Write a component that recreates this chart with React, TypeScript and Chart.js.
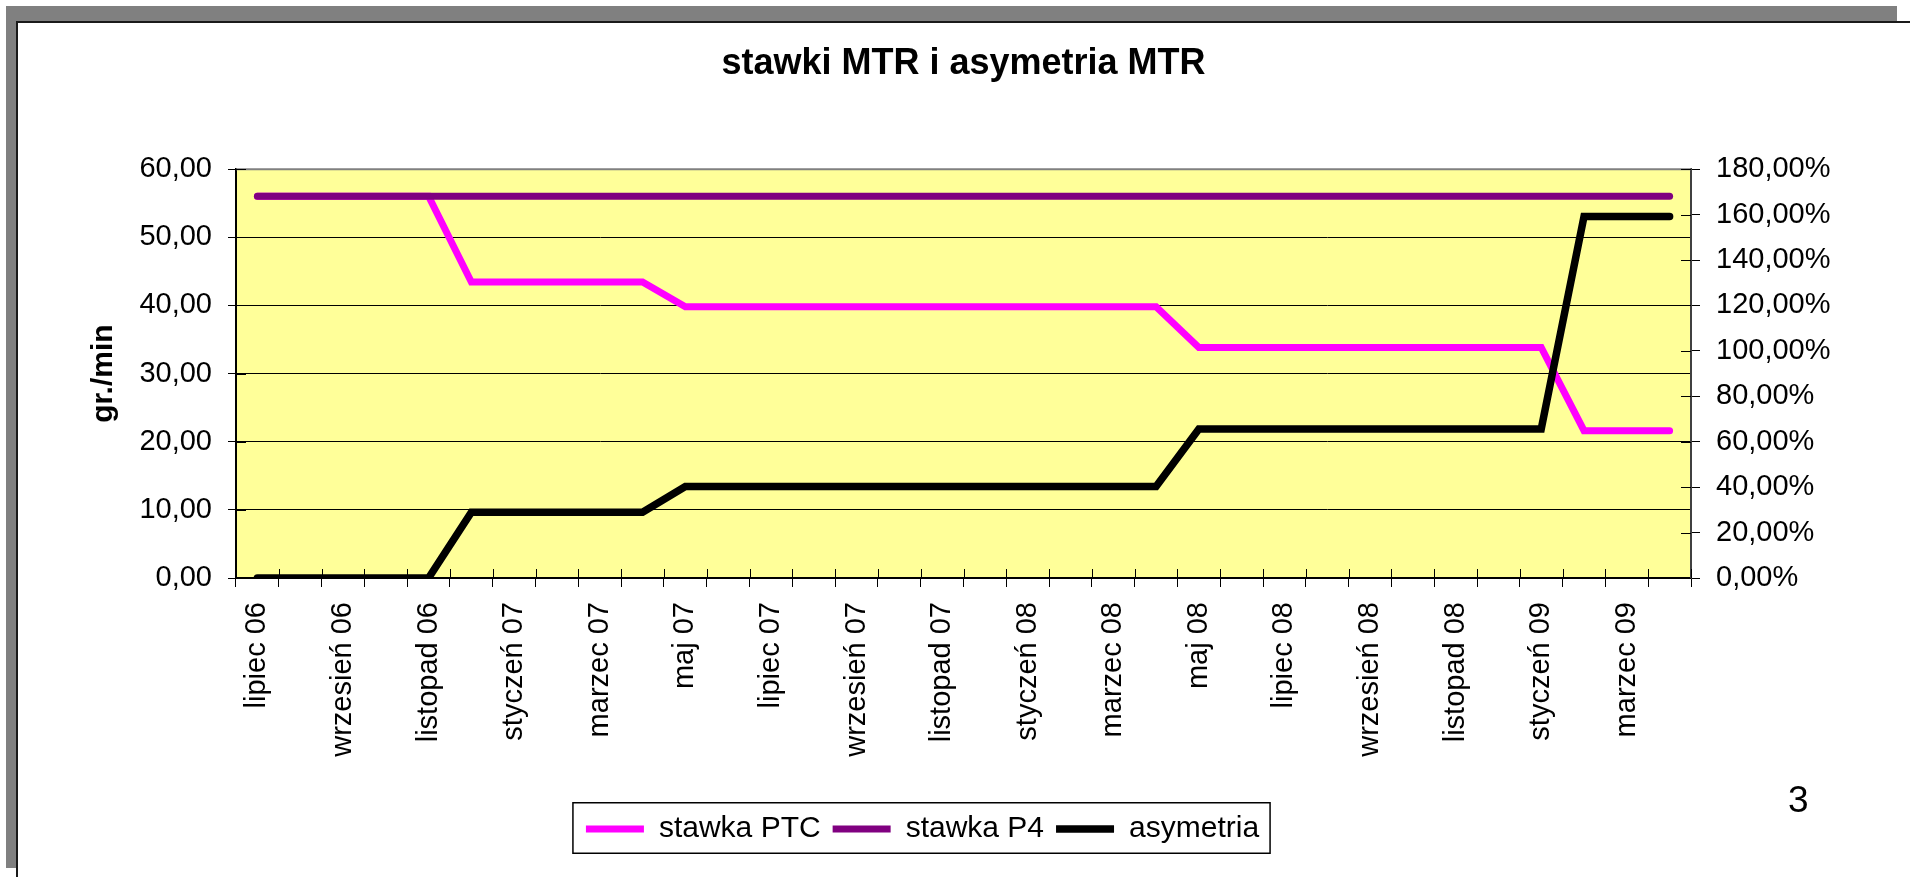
import React, { useEffect, useRef } from 'react';
import { Chart, registerables } from 'chart.js';

Chart.register(...registerables);

const FONT = "'Liberation Sans', Arial, sans-serif";

const titleText = 'stawki MTR i asymetria MTR';
const yLeftTitle = 'gr./min';
const pageNumber = '3';

const months = [
  'lipiec 06', 'sierpień 06', 'wrzesień 06', 'październik 06', 'listopad 06', 'grudzień 06',
  'styczeń 07', 'luty 07', 'marzec 07', 'kwiecień 07', 'maj 07', 'czerwiec 07',
  'lipiec 07', 'sierpień 07', 'wrzesień 07', 'październik 07', 'listopad 07', 'grudzień 07',
  'styczeń 08', 'luty 08', 'marzec 08', 'kwiecień 08', 'maj 08', 'czerwiec 08',
  'lipiec 08', 'sierpień 08', 'wrzesień 08', 'październik 08', 'listopad 08', 'grudzień 08',
  'styczeń 09', 'luty 09', 'marzec 09', 'kwiecień 09',
];

const seriesNames = ['stawka PTC', 'stawka P4', 'asymetria'];

const stawkaPTC = [
  56.04, 56.04, 56.04, 56.04, 56.04,
  43.45, 43.45, 43.45, 43.45, 43.45,
  39.8, 39.8, 39.8, 39.8, 39.8, 39.8, 39.8, 39.8, 39.8, 39.8, 39.8, 39.8,
  33.84, 33.84, 33.84, 33.84, 33.84, 33.84, 33.84, 33.84, 33.84,
  21.62, 21.62, 21.62,
];

const stawkaP4 = [
  56.04, 56.04, 56.04, 56.04, 56.04, 56.04, 56.04, 56.04, 56.04, 56.04,
  56.04, 56.04, 56.04, 56.04, 56.04, 56.04, 56.04, 56.04, 56.04, 56.04,
  56.04, 56.04, 56.04, 56.04, 56.04, 56.04, 56.04, 56.04, 56.04, 56.04,
  56.04, 56.04, 56.04, 56.04,
];

// asymetria in percent
const asymetria = [
  0, 0, 0, 0, 0,
  29.0, 29.0, 29.0, 29.0, 29.0,
  40.3, 40.3, 40.3, 40.3, 40.3, 40.3, 40.3, 40.3, 40.3, 40.3, 40.3, 40.3,
  65.6, 65.6, 65.6, 65.6, 65.6, 65.6, 65.6, 65.6, 65.6,
  159.2, 159.2, 159.2,
];

const leftAxis = { min: 0, max: 60, step: 10 };
const rightAxis = { min: 0, max: 180, step: 20 };

const colors = ['#FF00FF', '#800080', '#000000'];

const fmt = (v: number) => v.toFixed(2).replace('.', ',');

const decorPlugin = {
  id: 'decor',
  beforeDraw(chart: any) {
    const { ctx, chartArea: a } = chart;
    ctx.save();
    ctx.fillStyle = '#FFFF99';
    ctx.fillRect(a.left, a.top, a.right - a.left, a.bottom - a.top);
    ctx.restore();
  },
  beforeDatasetsDraw(chart: any) {
    const { ctx, chartArea: a, scales } = chart;
    ctx.save();
    ctx.strokeStyle = '#808080';
    ctx.lineWidth = 2;
    ctx.beginPath();
    ctx.moveTo(a.left, a.top);
    ctx.lineTo(a.right, a.top);
    ctx.stroke();
    ctx.strokeStyle = '#000';
    ctx.lineWidth = 1;
    const yl = scales.y;
    yl.ticks.forEach((t: any) => {
      const py = Math.round(yl.getPixelForValue(t.value)) + 0.5;
      ctx.beginPath();
      ctx.moveTo(a.left, py);
      ctx.lineTo(a.left + 10, py);
      ctx.stroke();
    });
    const yr = scales.y1;
    yr.ticks.forEach((t: any) => {
      const py = Math.round(yr.getPixelForValue(t.value)) + 0.5;
      ctx.beginPath();
      ctx.moveTo(a.right - 10, py);
      ctx.lineTo(a.right, py);
      ctx.stroke();
    });
    const xs = scales.x;
    const n = xs.ticks.length;
    const half = (xs.getPixelForTick(1) - xs.getPixelForTick(0)) / 2;
    for (let i = 0; i <= n; i++) {
      const px = Math.round(xs.getPixelForTick(0) - half + 2 * half * i) + 0.5;
      ctx.beginPath();
      ctx.moveTo(px, a.bottom - 9);
      ctx.lineTo(px, a.bottom);
      ctx.stroke();
    }
    ctx.restore();
  },
  afterDraw(chart: any) {
    const lg = chart.legend;
    if (!lg || !lg.legendHitBoxes || !lg.legendHitBoxes.length) return;
    const hb = lg.legendHitBoxes;
    const first = hb[0];
    const last = hb[hb.length - 1];
    const { ctx } = chart;
    ctx.save();
    ctx.strokeStyle = '#000';
    ctx.lineWidth = 1.5;
    const l = first.left - 13;
    const r = last.left + last.width + 11;
    ctx.strokeRect(l, lg.top + 0.75, r - l, lg.bottom - lg.top - 1.5);
    ctx.restore();
  },
};

function ChartView() {
  const ref = useRef<HTMLCanvasElement | null>(null);
  useEffect(() => {
    if (!ref.current) return;
    const chart = new Chart(ref.current, {
      type: 'line',
      data: {
        labels: months,
        datasets: [
          {
            label: seriesNames[0],
            data: stawkaPTC,
            borderColor: colors[0],
            backgroundColor: colors[0],
            borderWidth: 7,
            borderCapStyle: 'round',
            borderJoinStyle: 'miter',
            pointRadius: 0,
            tension: 0,
            yAxisID: 'y',
            order: 3,
          },
          {
            label: seriesNames[1],
            data: stawkaP4,
            borderColor: colors[1],
            backgroundColor: colors[1],
            borderWidth: 7,
            borderCapStyle: 'round',
            borderJoinStyle: 'miter',
            pointRadius: 0,
            tension: 0,
            yAxisID: 'y',
            order: 2,
          },
          {
            label: seriesNames[2],
            data: asymetria,
            borderColor: colors[2],
            backgroundColor: colors[2],
            borderWidth: 7.5,
            borderCapStyle: 'round',
            borderJoinStyle: 'miter',
            pointRadius: 0,
            tension: 0,
            yAxisID: 'y1',
            order: 1,
          },
        ],
      },
      options: {
        animation: false,
        responsive: false,
        maintainAspectRatio: false,
        events: [],
        layout: { padding: { left: 0, right: 65, top: 0, bottom: 23 } },
        plugins: {
          tooltip: { enabled: false },
          title: {
            display: true,
            text: titleText,
            fullSize: false,
            color: '#000',
            font: { family: FONT, size: 36, weight: 'bold' },
            padding: { top: 42, bottom: 84 },
          },
          legend: {
            display: true,
            position: 'bottom',
            align: 'center',
            labels: {
              color: '#000',
              font: { family: FONT, size: 30 },
              usePointStyle: true,
              pointStyle: 'line',
              pointStyleWidth: 58,
              padding: 12,
              sort: (a: any, b: any) => a.datasetIndex - b.datasetIndex,
            },
          },
        },
        scales: {
          x: {
            type: 'category',
            offset: true,
            afterFit: (s: any) => { s.height = 224; },
            grid: {
              offset: true,
              drawOnChartArea: false,
              drawTicks: true,
              tickLength: 9,
              color: '#000',
              lineWidth: 1,
            },
            border: { display: true, color: '#000', width: 2 },
            ticks: {
              autoSkip: false,
              minRotation: 90,
              maxRotation: 90,
              padding: 15,
              color: '#000',
              font: { family: FONT, size: 29 },
              callback: (_v: any, i: number) => (i % 2 === 0 ? months[i] : ''),
            },
          },
          y: {
            type: 'linear',
            position: 'left',
            min: leftAxis.min,
            max: leftAxis.max,
            afterFit: (s: any) => { s.width = 236; },
            grid: { color: '#000', lineWidth: 1, drawTicks: true, tickLength: 8 },
            border: { display: true, color: '#000', width: 2 },
            ticks: {
              stepSize: leftAxis.step,
              padding: 16,
              color: '#000',
              font: { family: FONT, size: 29 },
              callback: (v: any) => fmt(Number(v)),
            },
            title: {
              display: true,
              text: yLeftTitle,
              color: '#000',
              font: { family: FONT, size: 30, weight: 'bold' },
              padding: { top: 86, bottom: 0 },
            },
          },
          y1: {
            type: 'linear',
            position: 'right',
            min: rightAxis.min,
            max: rightAxis.max,
            afterFit: (s: any) => { s.width = 154; },
            grid: { drawOnChartArea: false, color: '#000', lineWidth: 1, drawTicks: true, tickLength: 9 },
            border: { display: true, color: '#404040', width: 2 },
            ticks: {
              stepSize: rightAxis.step,
              padding: 16,
              color: '#000',
              font: { family: FONT, size: 29 },
              callback: (v: any) => fmt(Number(v)) + '%',
            },
          },
        },
      },
      plugins: [decorPlugin],
    } as any);
    return () => chart.destroy();
  }, []);
  return (
    <canvas
      ref={ref}
      width={1910}
      height={877}
      style={{ position: 'absolute', left: 0, top: 0, width: 1910, height: 877 }}
    />
  );
}

export default function App() {
  return (
    <div style={{ position: 'fixed', left: 0, top: 0, width: 1910, height: 877, background: '#fff', overflow: 'hidden' }}>
      <div style={{ position: 'absolute', left: 6, top: 6, width: 1891, height: 15, background: '#808080' }} />
      <div style={{ position: 'absolute', left: 6, top: 6, width: 10, height: 862, background: '#808080' }} />
      <div style={{ position: 'absolute', left: 16, top: 21, width: 1894, height: 2, background: '#1a1a1a' }} />
      <div style={{ position: 'absolute', left: 16, top: 21, width: 2, height: 856, background: '#1a1a1a' }} />
      <ChartView />
      <div
        style={{
          position: 'absolute',
          left: 1788,
          top: 781,
          fontFamily: FONT,
          fontSize: 37,
          lineHeight: '37px',
          color: '#000',
        }}
      >
        {pageNumber}
      </div>
    </div>
  );
}
